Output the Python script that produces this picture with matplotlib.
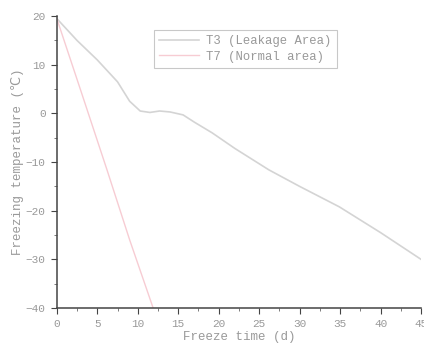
import matplotlib
matplotlib.use('Agg')
import matplotlib.pyplot as plt
from matplotlib.ticker import MultipleLocator

# T3 (leakage area)
t3_days = [0, 2.5, 5, 7.5, 9, 10.3, 11.5, 12.7, 14, 15.6, 17, 19.2, 22, 26.2, 30, 34.9, 40, 45]
t3_temp = [19.5, 15, 11, 6.5, 2.5, 0.5, 0.2, 0.5, 0.3, -0.3, -1.8, -4, -7.2, -11.6, -15, -19.2, -24.5, -30]

# T7 (normal area)
t7_days = [0, 3, 6.2, 9, 11.9]
t7_temp = [19.5, 4.5, -11.6, -26, -40]

plt.rcParams['font.family'] = ['Liberation Mono', 'DejaVu Sans']

fig = plt.figure(figsize=(4.24, 3.51), dpi=100)
ax = fig.add_axes([0.134, 0.1225, 0.859, 0.8315])

ax.plot(t3_days, t3_temp, color='#d4d4d4', lw=1.2, label='T3 (Leakage Area)')
ax.plot(t7_days, t7_temp, color='#f7ccd3', lw=1.0, label='T7 (Normal area)')

ax.set_xlim(0, 45)
ax.set_ylim(-40, 20)
ax.xaxis.set_major_locator(MultipleLocator(5))
ax.xaxis.set_minor_locator(MultipleLocator(2.5))
ax.yaxis.set_major_locator(MultipleLocator(10))
ax.yaxis.set_minor_locator(MultipleLocator(5))

for s in ['top', 'right']:
    ax.spines[s].set_visible(False)
for s in ['left', 'bottom']:
    ax.spines[s].set_color('#444444')
    ax.spines[s].set_linewidth(1.1)

ax.tick_params(which='major', length=4, color='#444444', labelsize=8, labelcolor='#999999', pad=4)
ax.tick_params(which='minor', length=2, color='#666666')

ax.set_xlabel('Freeze time (d)', fontsize=9, color='#999999', labelpad=1)
ax.set_ylabel('Freezing temperature (\u2103)', fontsize=9, color='#999999', labelpad=1)

leg = ax.legend(loc='upper left', bbox_to_anchor=(0.25, 0.975), fontsize=8.8,
                frameon=True, fancybox=False, handlelength=3.2, borderpad=0.45,
                labelspacing=0.3, handletextpad=0.6)
leg.get_frame().set_edgecolor('#bbbbbb')
leg.get_frame().set_linewidth(0.8)
for t in leg.get_texts():
    t.set_color('#999999')

plt.savefig('out.png', dpi=100)
plt.close(fig)
